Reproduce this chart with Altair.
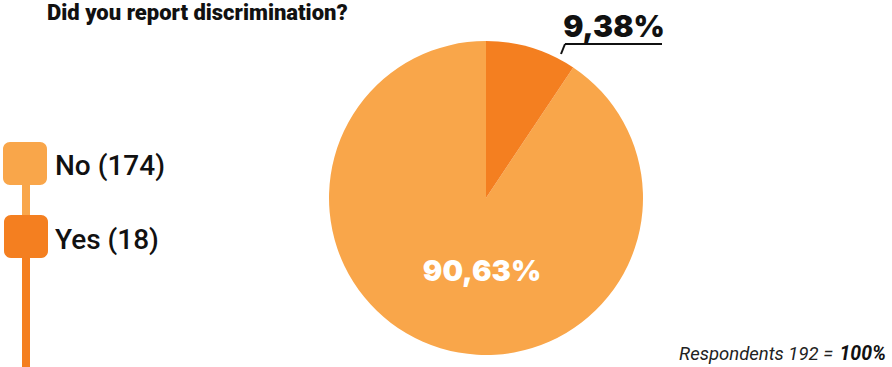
import altair as alt
import pandas as pd

categories = ["No", "Yes"]
counts = [174, 18]
pct_labels = ["90,63%", "9,38%"]
colors = ["#F9A64A", "#F47F20"]
title_text = "Did you report discrimination?"
total_label = "Respondents 192 ="
total_bold = "100%"

df = pd.DataFrame({
    "cat": categories,
    "count": counts,
    "order": [2, 1],
    "label": pct_labels,
})

NARROW = "Roboto"
HEAVY = "Inter"

color_scale = alt.Scale(domain=categories, range=colors)

pie = alt.Chart(df).mark_arc(radius=157, stroke=None).encode(
    theta=alt.Theta("count:Q", stack=True),
    order=alt.Order("order:Q"),
    color=alt.Color("cat:N", scale=color_scale, legend=None),
    x=alt.value(486),
    y=alt.value(198),
)

lab_no = alt.Chart(df[df.cat == "No"]).mark_text(
    font=HEAVY, fontWeight=900, fontSize=29, color="white", align="center", baseline="alphabetic"
).encode(text="label:N", x=alt.value(482), y=alt.value(281))

lab_yes = alt.Chart(df[df.cat == "Yes"]).mark_text(
    font=HEAVY, fontWeight=900, fontSize=30, color="#111111", align="center", baseline="alphabetic"
).encode(text="label:N", x=alt.value(614), y=alt.value(37))

line_h = alt.Chart(df[df.cat == "Yes"]).mark_rule(color="#111111", strokeWidth=2).encode(
    x=alt.value(565), x2=alt.value(662), y=alt.value(44), y2=alt.value(44))
line_d = alt.Chart(df[df.cat == "Yes"]).mark_rule(color="#111111", strokeWidth=2).encode(
    x=alt.value(565), x2=alt.value(561), y=alt.value(44), y2=alt.value(54))

title = alt.Chart(df[df.cat == "No"]).mark_text(
    font=NARROW, fontWeight=900, fontSize=22, color="#111111", align="left", baseline="alphabetic"
).encode(text=alt.value(title_text), x=alt.value(47), y=alt.value(20))

# legend connectors
conn1 = alt.Chart(df[df.cat == "No"]).mark_rule(color=colors[0], strokeWidth=8).encode(
    x=alt.value(26), y=alt.value(180), y2=alt.value(220))
conn2 = alt.Chart(df[df.cat == "Yes"]).mark_rule(color=colors[1], strokeWidth=8).encode(
    x=alt.value(26), y=alt.value(250), y2=alt.value(367))

sq_no = alt.Chart(df[df.cat == "No"]).mark_rect(cornerRadius=7).encode(
    x=alt.value(3), x2=alt.value(47), y=alt.value(142), y2=alt.value(185),
    color=alt.Color("cat:N", scale=color_scale, legend=None))
sq_yes = alt.Chart(df[df.cat == "Yes"]).mark_rect(cornerRadius=7).encode(
    x=alt.value(4), x2=alt.value(48), y=alt.value(215), y2=alt.value(258),
    color=alt.Color("cat:N", scale=color_scale, legend=None))

leg_no = alt.Chart(df[df.cat == "No"]).mark_text(
    font=NARROW, fontWeight=500, fontSize=28, color="#111111", align="left", baseline="alphabetic"
).transform_calculate(t="datum.cat + ' (' + datum.count + ')'").encode(
    text="t:N", x=alt.value(55), y=alt.value(175))
leg_yes = alt.Chart(df[df.cat == "Yes"]).mark_text(
    font=NARROW, fontWeight=500, fontSize=28, color="#111111", align="left", baseline="alphabetic"
).transform_calculate(t="datum.cat + ' (' + datum.count + ')'").encode(
    text="t:N", x=alt.value(55), y=alt.value(249))

foot1 = alt.Chart(df[df.cat == "No"]).mark_text(
    font=NARROW, fontSize=18.5, fontStyle="italic", color="#222222", align="right", baseline="alphabetic"
).encode(text=alt.value(total_label), x=alt.value(833), y=alt.value(360))
foot2 = alt.Chart(df[df.cat == "No"]).mark_text(
    font=NARROW, fontSize=19.5, fontStyle="italic", fontWeight="bold", color="#111111", align="right", baseline="alphabetic"
).encode(text=alt.value(total_bold), x=alt.value(886), y=alt.value(360))

chart = alt.layer(
    pie, lab_no, lab_yes, line_h, line_d, title, conn1, conn2, sq_no, sq_yes, leg_no, leg_yes, foot1, foot2
).properties(
    width=892, height=367, padding=0, autosize=alt.AutoSizeParams(type="none"), background="white"
).configure_view(stroke=None)

chart.save("out.html", embed_options={"renderer": "svg", "actions": False})
